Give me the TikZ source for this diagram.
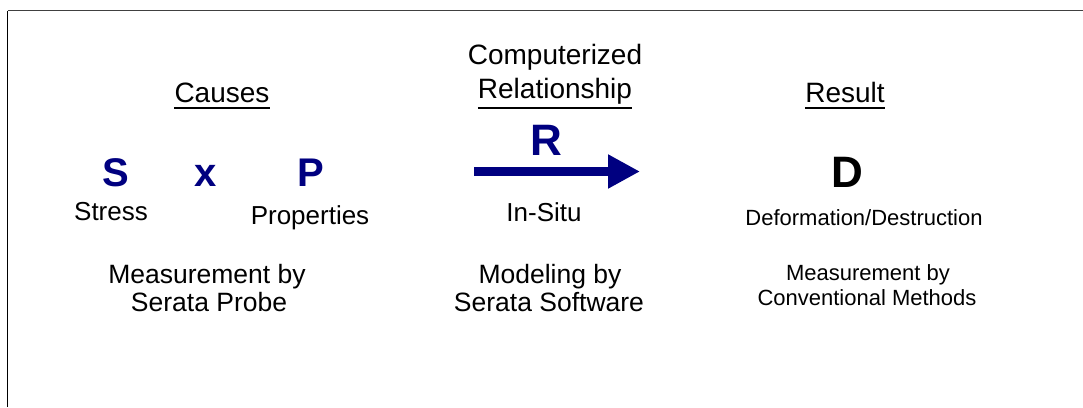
\documentclass[tikz,border=0pt]{standalone}
\usepackage{fontspec}
\setmainfont{Liberation Sans}
\usetikzlibrary{arrows.meta}
\definecolor{deepnavy}{RGB}{0,0,128}
\definecolor{framegray}{RGB}{64,64,64}
\begin{document}
\begin{tikzpicture}[x=1pt,y=-1pt,
  every node/.style={inner sep=0pt, anchor=base},
  head/.style={font=\fontsize{28}{34}\selectfont},
  sym/.style={font=\bfseries\fontsize{40}{48}\selectfont, text=deepnavy},
  bigsym/.style={font=\bfseries\fontsize{44}{52}\selectfont},
  label/.style={font=\fontsize{26}{31}\selectfont},
  note/.style={font=\fontsize{26.5}{32}\selectfont},
  small/.style={font=\fontsize{22}{27}\selectfont},
  uline/.style={line width=2pt},
  frame/.style={line width=1pt},
  flow/.style={draw=deepnavy, line width=9pt,
    -{Triangle[length=32pt,width=32pt]}}]
\useasboundingbox (0,0) rectangle (1083,407);

% frame
\coordinate (fb) at (7.5,407);
\coordinate (fc) at (7.5,10.5);
\coordinate (fr) at (1083,10.5);
\draw[frame, black] (fb) -- (fc);
\draw[frame, framegray] (fc) -- (fr);

% column headings
\node[head] (cau) at (222,102.5) {Causes};
\node[head] (comp) at (555,64.5) {Computerized};
\node[head] (rel) at (555,98) {Relationship};
\node[head] (res) at (845,102.5) {Result};
\coordinate (ul) at (0,108);
\draw[uline] (cau.base west |- ul) -- (cau.base east |- ul);
\draw[uline] (rel.base west |- ul) -- (rel.base east |- ul);
\draw[uline] (res.base west |- ul) -- (res.base east |- ul);

% causes
\node[sym] (s) at (116,186.7) {S};
\node[sym] (x) at (206,186.7) {x};
\node[sym] (p) at (311,186.7) {P};
\node[label] (stress) at (111,220.3) {Stress};
\node[label] (props) at (310,224.3) {Properties};

% relationship
\node[bigsym, text=deepnavy] (r) at (546,155) {R};
\coordinate (as) at (474,171.5);
\coordinate (ae) at (640,171.5);
\draw[flow] (as) -- (ae);
\node[label] (insitu) at (544,221.5) {In-Situ};

% result
\node[bigsym, text=black] (d) at (847.5,187.7) {D};
\node[small] (defo) at (864,225) {Deformation/Destruction};

% methods
\node[note] (m1) at (207,283.3) {Measurement by};
\node[note] (m2) at (209,311.7) {Serata Probe};
\node[note] (mod1) at (550,283) {Modeling by};
\node[note] (mod2) at (549,311.7) {Serata Software};
\node[small] (cm1) at (868,280) {Measurement by};
\node[small] (cm2) at (867,305.7) {Conventional Methods};
\end{tikzpicture}
\end{document}
